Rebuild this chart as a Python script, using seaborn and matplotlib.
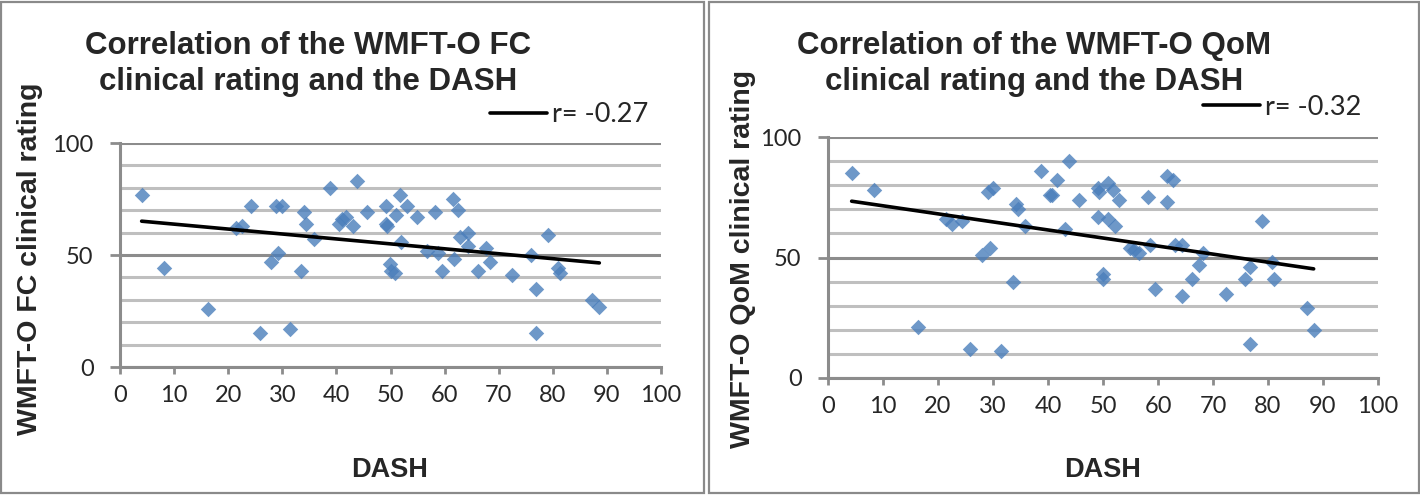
import numpy as np
import pandas as pd
import matplotlib
matplotlib.use("Agg")
import matplotlib.pyplot as plt
from matplotlib.ticker import MultipleLocator
from matplotlib.lines import Line2D
from matplotlib.patches import Rectangle
import seaborn as sns

# ---- data ----
dash_fc = [4.0, 8.2, 16.3, 21.4, 22.5, 24.2, 25.9, 27.9, 29.2, 28.9, 30.0, 31.5, 33.5, 34.1,
           34.4, 35.8, 38.8, 40.4, 41.0, 41.7, 43.1, 43.9, 45.7, 49.1, 49.1, 49.3, 49.9, 50.0,
           50.9, 51.1, 51.7, 52.0, 53.0, 54.9, 56.7, 58.3, 58.8, 59.6, 61.6, 61.7, 62.5, 62.9,
           64.4, 64.4, 66.2, 67.6, 68.4, 72.5, 76.0, 76.9, 76.9, 79.1, 81.0, 81.3, 87.2, 88.6]
fc = [77, 44, 26, 62, 63, 72, 15, 47, 51, 72, 72, 17, 43, 69,
      64, 57, 80, 64, 66, 67, 63, 83, 69, 72, 64, 63, 46, 43,
      42, 68, 77, 56, 72, 67, 52, 69, 51, 43, 75, 48, 70, 58,
      60, 54, 43, 53, 47, 41, 50, 35, 15, 59, 44, 42, 30, 27]

dash_qom = [4.3, 8.3, 16.4, 21.5, 22.6, 24.3, 25.9, 28.0, 29.4, 29.0, 30.0, 31.5, 33.6, 34.1,
            34.5, 35.9, 38.8, 40.4, 40.8, 41.6, 43.0, 43.9, 45.6, 49.0, 49.2, 49.0, 50.0, 50.0,
            50.9, 51.8, 52.9, 50.9, 52.1, 54.9, 55.6, 56.5, 58.2, 58.6, 59.5, 61.6, 61.6, 62.7,
            63.0, 64.3, 64.3, 66.1, 67.5, 68.2, 72.3, 75.8, 76.7, 76.7, 78.9, 80.8, 81.0, 87.1, 88.3]
qom = [85, 78, 21, 66, 64, 65, 12, 51, 54, 77, 79, 11, 40, 72,
       70, 63, 86, 76, 76, 82, 62, 90, 74, 79, 77, 67, 43, 41,
       81, 78, 74, 66, 63, 54, 53, 52, 75, 55, 37, 73, 84, 82,
       55, 55, 34, 41, 47, 52, 35, 41, 46, 14, 65, 48, 41, 29, 20]

titles = ["Correlation of the WMFT-O FC\nclinical rating and the DASH",
          "Correlation of the WMFT-O QoM\nclinical rating and the DASH"]
ylabels = ["WMFT-O FC clinical rating", "WMFT-O QoM clinical rating"]
legend_labels = ["r= -0.27", "r= -0.32"]
xlabel = "DASH"
xticks = list(range(0, 101, 10))
yticks = [0, 50, 100]

# ---- style ----
sns.set_style("white")
plt.rcParams['font.family'] = ['Lato', 'DejaVu Sans']

BLUE = "#4A7EBB"
AXGRAY = "#8C8C8C"
MINOR = "#BFBFBF"
BOLD = "Liberation Sans"

W, H = 1420, 495
fig = plt.figure(figsize=(W / 100, H / 100), dpi=100)

# panel layout in pixel coordinates: (left, top, right, bottom) of the plot area
panels = [
    dict(ax=(120, 143, 661, 367), border=(1.5, 1.5, 704, 493), title_x=308,
         ylab_x=30, leg=(490, 115), xlab=(390, 470)),
    dict(ax=(828, 137, 1378, 378), border=(708.5, 1.5, 1418.5, 493), title_x=1034,
         ylab_x=743, leg=(1203, 107), xlab=(1103, 470)),
]
datasets = [(dash_fc, fc), (dash_qom, qom)]

for i, p in enumerate(panels):
    l, t, r, b = p["ax"]
    ax = fig.add_axes([l / W, 1 - b / H, (r - l) / W, (b - t) / H])
    df = pd.DataFrame({"DASH": datasets[i][0], "score": datasets[i][1]})
    sns.regplot(data=df, x="DASH", y="score", ax=ax, ci=None, marker="D",
                scatter_kws=dict(s=62, color=BLUE, linewidths=0, zorder=3),
                line_kws=dict(color="black", lw=2.6, zorder=4))
    ax.set_xlim(0, 100)
    ax.set_ylim(0, 100)
    ax.set_xticks(xticks)
    ax.set_yticks(yticks)
    ax.yaxis.set_minor_locator(MultipleLocator(10))
    ax.set_xlabel("")
    ax.set_ylabel("")
    ax.grid(False)
    ax.grid(which="major", axis="y", color=AXGRAY, lw=2.2, zorder=1)
    ax.grid(which="minor", axis="y", color=MINOR, lw=2.2, zorder=1)
    ax.set_axisbelow(True)
    for s in ["top", "right"]:
        ax.spines[s].set_visible(False)
    for s in ["left", "bottom"]:
        ax.spines[s].set_color(AXGRAY)
        ax.spines[s].set_linewidth(2.2)
    ax.tick_params(axis="x", which="major", direction="out", length=5, width=2,
                   color=AXGRAY, labelsize=17, pad=8, bottom=True)
    ax.tick_params(axis="y", which="major", direction="out", length=7, width=2,
                   color=AXGRAY, labelsize=17, pad=12, left=True)
    ax.tick_params(axis="y", which="minor", length=0)
    ax.patch.set_alpha(0)

    # title
    fig.text(p["title_x"] / W, 1 - 31 / H, titles[i], ha="center", va="top",
             fontsize=22.5, fontweight="bold", family=BOLD, linespacing=1.25)
    # y label
    fig.text(p["ylab_x"] / W, 1 - 259 / H, ylabels[i], ha="center", va="center",
             rotation=90, fontsize=20.5, fontweight="bold", family=BOLD)
    # x label
    fig.text(p["xlab"][0] / W, 1 - p["xlab"][1] / H, xlabel, ha="center", va="center",
             fontsize=19.5, fontweight="bold", family=BOLD)
    # legend
    handle = Line2D([], [], color="black", lw=2.6)
    ax.legend([handle], [legend_labels[i]], loc="center left",
              bbox_to_anchor=(p["leg"][0] / W, 1 - p["leg"][1] / H),
              bbox_transform=fig.transFigure, frameon=False, fontsize=19.5,
              handlelength=2.1, handletextpad=0.2, borderpad=0, borderaxespad=0)
    # chart-area border
    bl, bt, br, bb = p["border"]
    fig.add_artist(Rectangle((bl / W, 1 - bb / H), (br - bl) / W, (bb - bt) / H,
                             transform=fig.transFigure, fill=False,
                             edgecolor="#8A8A8A", lw=1.6))

fig.savefig("out.png", dpi=100)
